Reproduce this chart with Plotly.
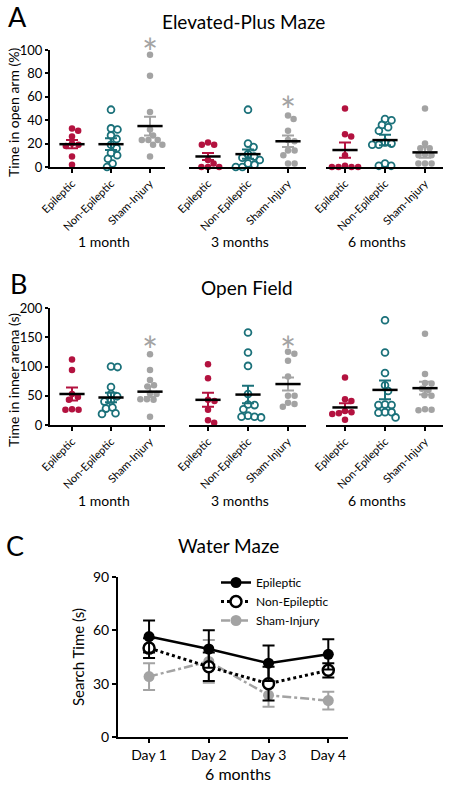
import numpy as np
import plotly.graph_objects as go

W, H = 450, 787
FONT = "Lato"

groups = ["Epileptic", "Non-Epileptic", "Sham-Injury"]
timepoints = ["1 month", "3 months", "6 months"]
group_colors = ["#b3123f", "#1b717a", "#a3a3a3"]

# ---------------- Panel A: Elevated-Plus Maze (% time in open arm) ----------------
epm_epi_1m = [33, 31, 26, 20, 19, 18, 9, 2]
epm_non_1m = [49, 33, 32, 27, 24, 19, 16, 12, 10, 7, 3, 0]
epm_sham_1m = [96, 78, 47, 32, 27, 23, 23, 23, 19, 19, 9]
epm_epi_3m = [21, 19, 19, 6, 3, 0, 0, 0]
epm_non_3m = [49, 20, 17, 11, 9, 8, 6, 3, 2, 0, 0]
epm_sham_3m = [44, 41, 31, 23, 22, 14, 14, 10, 3, 3]
epm_epi_6m = [50, 28, 26, 10, 1, 0, 0, 0, 0]
epm_non_6m = [41, 40, 36, 34, 31, 21, 20, 19, 19, 3, 1, 1]
epm_sham_6m = [50, 20, 16, 16, 11, 10, 10, 3, 3, 3]
epm_mean_1m = [19.5, 19.5, 35]
epm_sem_1m = [3.5, 5, 8]
epm_mean_3m = [9, 11, 22]
epm_sem_3m = [3, 4, 5]
epm_mean_6m = [14.5, 23, 12.5]
epm_sem_6m = [6.5, 4.5, 4.7]
epm_star_1m = 106
epm_star_3m = 56

# ---------------- Panel B: Open Field (time in inner arena, s) ----------------
of_epi_1m = [112, 94, 53, 48, 43, 27, 26, 26]
of_non_1m = [100, 99, 65, 53, 49, 41, 40, 30, 28, 20, 19]
of_sham_1m = [121, 94, 77, 68, 66, 54, 53, 44, 44, 43, 14]
of_epi_3m = [104, 80, 43, 41, 26, 8, 4]
of_non_3m = [158, 124, 101, 53, 35, 34, 27, 16, 14, 14, 13]
of_sham_3m = [125, 122, 110, 83, 50, 50, 38, 36, 31]
of_epi_6m = [81, 44, 41, 24, 22, 20, 19, 9]
of_non_6m = [179, 124, 89, 68, 58, 35, 34, 34, 22, 22, 21, 13]
of_sham_6m = [156, 87, 72, 71, 62, 60, 51, 50, 27, 26, 25]
of_mean_1m = [53, 47, 57]
of_sem_1m = [11, 8, 9]
of_mean_3m = [43, 52, 70]
of_sem_3m = [12, 15, 11]
of_mean_6m = [30, 60, 63]
of_sem_6m = [7, 16, 11]
of_star_1m = 144
of_star_3m = 144

# ---------------- Panel C: Water Maze ----------------
days = ["Day 1", "Day 2", "Day 3", "Day 4"]
wm_epi = [56.5, 49.5, 41.5, 46.5]
wm_epi_sem = [9, 10.5, 10, 8.5]
wm_non = [50, 39.5, 30, 37.5]
wm_non_sem = [5.5, 8, 9.5, 4]
wm_sham = [34, 42.5, 23.5, 20.5]
wm_sham_sem = [7.5, 12, 6.5, 5]


def fx(px):
    return px / W


def fy(py):
    return 1 - py / H


# pixel geometry of the broken x axes (left, right, first tick, spacing)
seg_geom = [(50, 165, 72, 39.0), (189, 306, 208, 40.0), (326, 443, 345, 40.0)]


def swarm(values, d, ypx_per_unit):
    placed = []
    offs = [0.0] * len(values)
    order = sorted(range(len(values)), key=lambda i: -values[i])
    for i in order:
        y = values[i] * ypx_per_unit
        cands = [0.0]
        for xj, yj in placed:
            dy = abs(y - yj)
            if dy < d:
                dx = np.sqrt(d * d - dy * dy)
                cands += [xj + dx, xj - dx]
        valid = [c for c in cands
                 if all((c - xj) ** 2 + (y - yj) ** 2 >= d * d - 1e-6 for xj, yj in placed)]
        best = min(valid, key=lambda c: (round(abs(c), 3), c < 0))
        placed.append((best, y))
        offs[i] = best
    return offs


fig = go.Figure()
annotations = []

panels = [
    dict(yname="y", xnames=["x", "x2", "x3"], ydom=(50, 167), yrange=[0, 100], ypx=117 / 100,
         data=[[epm_epi_1m, epm_non_1m, epm_sham_1m],
               [epm_epi_3m, epm_non_3m, epm_sham_3m],
               [epm_epi_6m, epm_non_6m, epm_sham_6m]],
         means=[epm_mean_1m, epm_mean_3m, epm_mean_6m],
         sems=[epm_sem_1m, epm_sem_3m, epm_sem_6m],
         stars=[epm_star_1m, epm_star_3m, None],
         ticks=[0, 20, 40, 60, 80, 100]),
    dict(yname="y2", xnames=["x4", "x5", "x6"], ydom=(308, 425), yrange=[0, 200], ypx=117 / 200,
         data=[[of_epi_1m, of_non_1m, of_sham_1m],
               [of_epi_3m, of_non_3m, of_sham_3m],
               [of_epi_6m, of_non_6m, of_sham_6m]],
         means=[of_mean_1m, of_mean_3m, of_mean_6m],
         sems=[of_sem_1m, of_sem_3m, of_sem_6m],
         stars=[of_star_1m, of_star_3m, None],
         ticks=[0, 50, 100, 150, 200]),
]

layout_axes = {}

for p in panels:
    r0, r1 = p["yrange"]
    for t, xn in enumerate(p["xnames"]):
        left, right, tick0, sp = seg_geom[t]
        for g in range(3):
            vals = p["data"][t][g]
            offs = swarm(vals, 6.6, p["ypx"])
            xs = [g + o / sp for o in offs]
            if g == 1:
                mk = dict(symbol="circle-open", size=6.8, color=group_colors[g],
                          line=dict(width=1.8, color=group_colors[g]))
            else:
                mk = dict(symbol="circle", size=6.5, color=group_colors[g], line=dict(width=0))
            fig.add_trace(go.Scatter(x=xs, y=vals, mode="markers", marker=mk,
                                     xaxis=xn, yaxis=p["yname"], showlegend=False,
                                     cliponaxis=False, hoverinfo="skip"))
            fig.add_trace(go.Scatter(
                x=[g], y=[p["means"][t][g]], mode="markers",
                marker=dict(symbol="line-ew", size=18, line=dict(width=2.5, color="black")),
                error_y=dict(type="data", array=[p["sems"][t][g]], color=group_colors[g],
                             thickness=2, width=6),
                xaxis=xn, yaxis=p["yname"], showlegend=False, cliponaxis=False,
                hoverinfo="skip"))
        if p["stars"][t] is not None:
            annotations.append(dict(text="*", x=2, y=(p["stars"][t] - r0) / (r1 - r0),
                                    xref=xn, yref=p["yname"] + " domain",
                                    showarrow=False, xanchor="center", yanchor="middle",
                                    yshift=-9,
                                    font=dict(family=FONT, size=38, color="#a3a3a3")))
        key = "xaxis" if xn == "x" else "xaxis" + xn[1:]
        layout_axes[key] = dict(
            domain=[fx(left), fx(right)], range=[(left - tick0) / sp, (right - tick0) / sp],
            anchor=p["yname"], showline=True, linecolor="black", linewidth=2,
            showgrid=False, zeroline=False, tickmode="array", tickvals=[0, 1, 2],
            ticktext=groups, ticks="outside", ticklen=4, tickwidth=1.5, tickcolor="black",
            tickangle=-45, tickfont=dict(family=FONT, size=11, color="black"),
            automargin=False, fixedrange=True)
    ykey = "yaxis" if p["yname"] == "y" else "yaxis" + p["yname"][1:]
    layout_axes[ykey] = dict(
        domain=[fy(p["ydom"][1]), fy(p["ydom"][0])], range=p["yrange"],
        anchor=p["xnames"][0], showline=True, linecolor="black", linewidth=2,
        showgrid=False, zeroline=False, tickmode="array", tickvals=p["ticks"],
        ticks="outside", ticklen=3, tickwidth=2, tickcolor="black",
        tickfont=dict(family=FONT, size=13, color="black"), automargin=False,
        fixedrange=True)

# ---------------- Panel C traces ----------------
xd = [1, 2, 3, 4]
fig.add_trace(go.Scatter(
    x=xd, y=wm_sham, name="Sham-Injury", mode="lines+markers", xaxis="x7", yaxis="y3",
    line=dict(color="#a3a3a3", width=2.5, dash="dashdot"),
    marker=dict(symbol="circle", size=11, color="#a3a3a3"),
    error_y=dict(type="data", array=wm_sham_sem, color="#a3a3a3", thickness=2, width=6),
    cliponaxis=False))
fig.add_trace(go.Scatter(
    x=xd, y=wm_non, name="Non-Epileptic", mode="lines+markers", xaxis="x7", yaxis="y3",
    line=dict(color="black", width=3, dash="dot"),
    marker=dict(symbol="circle", size=11, color="white", line=dict(color="black", width=2.5)),
    error_y=dict(type="data", array=wm_non_sem, color="black", thickness=2, width=6),
    cliponaxis=False))
fig.add_trace(go.Scatter(
    x=xd, y=wm_epi, name="Epileptic", mode="lines+markers", xaxis="x7", yaxis="y3",
    line=dict(color="black", width=2.5),
    marker=dict(symbol="circle", size=11, color="black"),
    error_y=dict(type="data", array=wm_epi_sem, color="black", thickness=2, width=6),
    cliponaxis=False))

layout_axes["xaxis7"] = dict(
    domain=[fx(118), fx(348)], range=[0.48, 4.33], anchor="y3", showline=True,
    linecolor="black", linewidth=2, showgrid=False, zeroline=False, tickmode="array",
    tickvals=xd, ticktext=days, ticks="outside", ticklen=4, tickwidth=2, tickcolor="black",
    tickfont=dict(family=FONT, size=14, color="black"), automargin=False, fixedrange=True)
layout_axes["yaxis3"] = dict(
    domain=[fy(737), fy(577)], range=[0, 90], anchor="x7", showline=True,
    linecolor="black", linewidth=2, showgrid=False, zeroline=False, tickmode="array",
    tickvals=[0, 30, 60, 90], ticks="outside", ticklen=4, tickwidth=2, tickcolor="black",
    tickfont=dict(family=FONT, size=14, color="black"), automargin=False, fixedrange=True)


def ann(text, px, py, size, angle=0, xanchor="center"):
    annotations.append(dict(text=text, x=fx(px), y=fy(py), xref="paper", yref="paper",
                            showarrow=False, xanchor=xanchor, yanchor="middle",
                            textangle=angle,
                            font=dict(family=FONT, size=size, color="black")))


ann("A", 17, 17, 27)
ann("B", 18, 283, 27)
ann("C", 15, 545, 27)
ann("Elevated-Plus Maze", 243, 22, 19)
ann("Open Field", 247, 287, 19)
ann("Water Maze", 229, 545, 19)
ann("Time in open arm (%)", 13, 112, 14, angle=-90)
ann("Time in inner arena (s)", 13, 380, 14, angle=-90)
ann("Search Time (s)", 78, 657, 15, angle=-90)
for lbl, cx in zip(timepoints, [104, 240, 377]):
    ann(lbl, cx, 241, 14)
    ann(lbl, cx, 500, 14)
ann("6 months", 238, 773, 16)

fig.update_layout(
    width=W, height=H, margin=dict(l=0, r=0, t=0, b=0, autoexpand=False),
    paper_bgcolor="white", plot_bgcolor="white",
    font=dict(family=FONT, color="black"),
    annotations=annotations,
    legend=dict(x=fx(216), y=fy(568), xanchor="left", yanchor="top",
                traceorder="reversed", bgcolor="rgba(0,0,0,0)", itemwidth=30,
                font=dict(family=FONT, size=12, color="black"), tracegroupgap=0),
    **layout_axes)

fig.write_html("out.html", config={"displayModeBar": False},
               post_script="document.body.style.margin='0';document.body.style.overflow='hidden';")
